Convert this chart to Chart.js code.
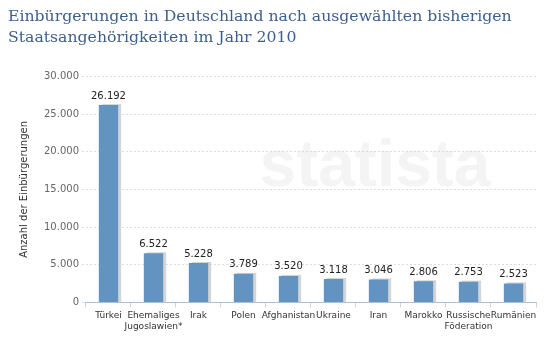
<!DOCTYPE html>
<html>
<head>
<meta charset="utf-8">
<script src="https://cdn.jsdelivr.net/npm/chart.js@4/dist/chart.umd.min.js"></script>
<style>
  body { margin: 0; background: #fff; }
  #wrap { width: 546px; height: 343px; position: relative; }
</style>
</head>
<body>
<div id="wrap"><canvas id="chart"></canvas></div>
<script>
'use strict';

// data
var countries = ['Türkei', ['Ehemaliges', 'Jugoslawien*'], 'Irak', 'Polen', 'Afghanistan', 'Ukraine', 'Iran', 'Marokko', ['Russische', 'Föderation'], 'Rumänien'];
var einbuergerungen = [26192, 6522, 5228, 3789, 3520, 3118, 3046, 2806, 2753, 2523];
var yTicks = [0, 5000, 10000, 15000, 20000, 25000, 30000];

var barColor = '#6394c1';
var shadowColor = '#d4d4d4';

function deNum(v) {
  return v.toString().replace(/\B(?=(\d{3})+(?!\d))/g, '.');
}

// grey shadow on the right of every bar
var barShadow = {
  id: 'barShadow',
  beforeDatasetsDraw: function(chart) {
    var ctx = chart.ctx;
    var meta = chart.getDatasetMeta(0);
    ctx.save();
    ctx.fillStyle = shadowColor;
    meta.data.forEach(function(bar) {
      var w = bar.width;
      ctx.fillRect(bar.x - w / 2 + 3, bar.y - 1, w, bar.base - bar.y + 1);
    });
    ctx.restore();
  }
};

// numbers above the bars
var valueLabels = {
  id: 'valueLabels',
  afterDatasetsDraw: function(chart) {
    var ctx = chart.ctx;
    var meta = chart.getDatasetMeta(0);
    ctx.save();
    ctx.font = '10px "DejaVu Sans"';
    ctx.fillStyle = '#222';
    ctx.textAlign = 'center';
    ctx.textBaseline = 'bottom';
    meta.data.forEach(function(bar, i) {
      ctx.fillText(deNum(einbuergerungen[i]), bar.x, bar.y - 4);
    });
    ctx.restore();
  }
};

// faint watermark
var watermark = {
  id: 'watermark',
  beforeDatasetsDraw: function(chart) {
    var ctx = chart.ctx;
    ctx.save();
    ctx.font = 'bold 66px "Liberation Sans"';
    ctx.fillStyle = 'rgba(210,210,210,0.25)';
    ctx.textAlign = 'center';
    ctx.textBaseline = 'middle';
    ctx.fillText('statista', 375, 168);
    ctx.restore();
  }
};

new Chart(document.getElementById('chart'), {
  type: 'bar',
  data: {
    labels: countries,
    datasets: [{
      data: einbuergerungen,
      backgroundColor: barColor,
      barPercentage: 0.43,
      categoryPercentage: 1.0
    }]
  },
  options: {
    responsive: true,
    maintainAspectRatio: false,
    animation: false,
    layout: { padding: { left: 8, right: 10, top: 0, bottom: 8 } },
    plugins: {
      legend: { display: false },
      tooltip: { enabled: false },
      title: {
        display: true,
        align: 'start',
        text: ['Einbürgerungen in Deutschland nach ausgewählten bisherigen', 'Staatsangehörigkeiten im Jahr 2010'],
        color: '#3d5f8c',
        font: { family: '"DejaVu Serif"', size: 15.7, weight: 'normal', lineHeight: 1.35 },
        padding: { top: 6, bottom: 28 }
      }
    },
    scales: {
      x: {
        grid: { display: true, drawOnChartArea: false, drawTicks: true, tickLength: 5, color: '#c8d4e0', offset: true },
        border: { display: true, color: '#a9c0d8', width: 1 },
        ticks: { color: '#333', font: { family: '"DejaVu Sans"', size: 9 }, maxRotation: 0, autoSkip: false, padding: 3 }
      },
      y: {
        min: 0,
        max: 30000,
        afterBuildTicks: function(axis) {
          axis.ticks = yTicks.map(function(v) { return { value: v }; });
        },
        grid: { color: '#dddddd', drawTicks: true, tickLength: 4, tickBorderDash: [2, 2] },
        border: { display: false, dash: [2, 2] },
        ticks: {
          color: '#666',
          font: { family: '"DejaVu Sans"', size: 10 },
          padding: 3,
          callback: function(v) { return deNum(v); }
        },
        title: {
          display: true,
          text: 'Anzahl der Einbürgerungen',
          color: '#333',
          font: { family: '"DejaVu Sans"', size: 10 },
          padding: { top: 10, bottom: 11 }
        }
      }
    }
  },
  plugins: [watermark, barShadow, valueLabels]
});
</script>
</body>
</html>
